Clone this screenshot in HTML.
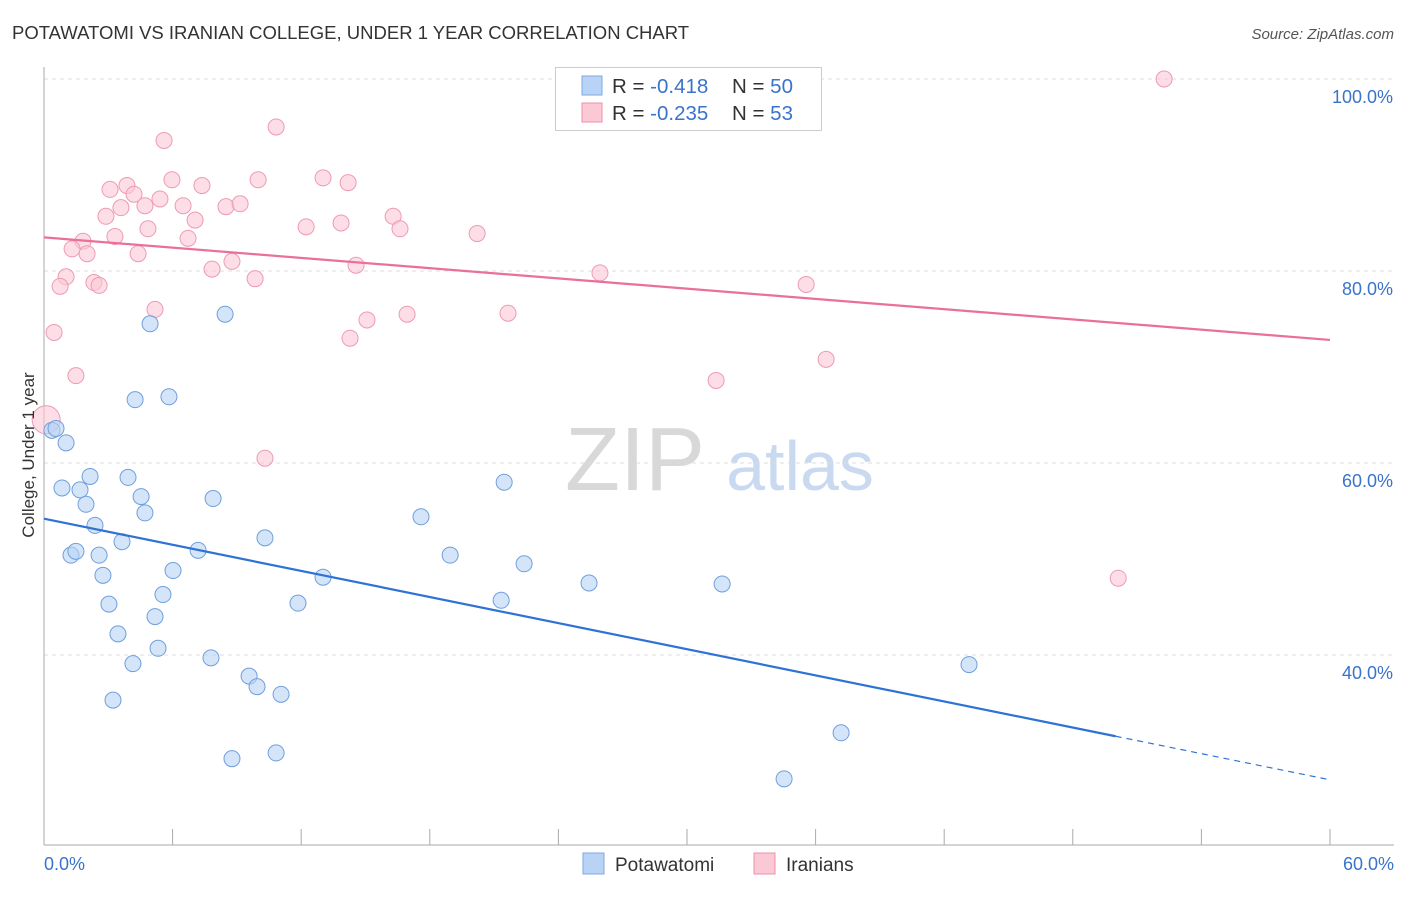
<!DOCTYPE html>
<html><head><meta charset="utf-8"><style>
body{margin:0;background:#fff;font-family:"Liberation Sans",sans-serif;}
svg text{font-family:"Liberation Sans",sans-serif;}
</style></head><body>
<svg id="chart" width="1406" height="892" xmlns="http://www.w3.org/2000/svg">
<text x="12" y="39" font-size="18.5" fill="#333">POTAWATOMI VS IRANIAN COLLEGE, UNDER 1 YEAR CORRELATION CHART</text>
<text x="1394" y="39" font-size="15" fill="#555" text-anchor="end" font-style="italic">Source: ZipAtlas.com</text>
<g>
<text x="635" y="490" font-size="90" fill="#d8d8d8" font-family="Liberation Serif" text-anchor="middle">ZIP</text>
<text x="800" y="490" font-size="70" fill="#c9daf0" text-anchor="middle">atlas</text>
</g>
<g id="grid"></g><g id="axes"></g><g id="marks"></g>
<text transform="translate(34,455) rotate(-90)" font-size="17" fill="#333" text-anchor="middle">College, Under 1 year</text>
<g>
<rect x="555.5" y="67.5" width="266" height="63" fill="#fff" stroke="#ccc"/>
<rect x="582" y="76" width="20" height="19" fill="#b8d3f5" stroke="#7fa9e0"/>
<rect x="582" y="103" width="20" height="19" fill="#fbc8d6" stroke="#ee8fae"/>
<text x="612" y="93" font-size="20.5" fill="#333">R = <tspan fill="#3a73cc">-0.418</tspan><tspan x="732">N = </tspan><tspan fill="#3a73cc">50</tspan></text>
<text x="612" y="120" font-size="20.5" fill="#333">R = <tspan fill="#3a73cc">-0.235</tspan><tspan x="732">N = </tspan><tspan fill="#3a73cc"> 53</tspan></text>
</g>
<g>
<rect x="583" y="853" width="21" height="21" fill="#b8d3f5" stroke="#7fa9e0"/>
<text x="615" y="871" font-size="19" fill="#333">Potawatomi</text>
<rect x="754" y="853" width="21" height="21" fill="#fbc8d6" stroke="#ee8fae"/>
<text x="786" y="871" font-size="19" fill="#333">Iranians</text>
</g>
</svg>
<script>
const blueX=[0.37,0.56,1.03,0.84,1.68,2.15,1.96,2.38,1.26,1.49,2.57,2.75,3.03,3.45,3.22,3.64,3.92,4.53,4.71,4.95,4.25,5.83,5.18,5.55,6.02,5.32,4.15,7.19,7.89,8.45,7.79,9.57,9.94,11.06,10.31,8.77,10.83,11.85,13.02,17.59,18.95,21.47,21.33,22.40,25.43,31.64,34.53,37.19,43.16];
const blueY=[63.4,63.6,62.1,57.4,57.2,58.6,55.7,53.5,50.4,50.8,50.4,48.3,45.3,42.2,35.3,51.8,58.5,56.5,54.8,74.5,66.6,66.9,44.0,46.3,48.8,40.7,39.1,50.9,56.3,75.5,39.7,37.8,36.7,35.9,52.2,29.2,29.8,45.4,48.1,54.4,50.4,58.0,45.7,49.5,47.5,47.4,27.1,31.9,39.0];
const pinkX=[52.26,10.83,5.60,13.02,14.19,9.99,7.37,5.97,3.87,3.08,4.20,5.41,4.71,3.59,2.89,6.49,7.05,8.49,9.15,13.86,16.29,12.23,16.61,20.21,4.85,3.31,6.72,1.82,1.31,2.01,4.39,8.77,7.84,14.56,1.03,2.33,2.57,9.85,0.75,25.94,35.56,5.18,15.07,16.94,21.65,14.28,0.47,1.49,31.36,36.49,10.31,50.12,0.1];
const pinkY=[100,95.0,93.6,89.7,89.2,89.5,88.9,89.5,88.9,88.5,88.0,87.5,86.8,86.6,85.7,86.8,85.3,86.7,87.0,85.0,85.7,84.6,84.4,83.9,84.4,83.6,83.4,83.1,82.3,81.8,81.8,81.0,80.2,80.6,79.4,78.8,78.5,79.2,78.4,79.8,78.6,76.0,74.9,75.5,75.6,73.0,73.6,69.1,68.6,70.8,60.5,48.0,64.5];
const yTicks=[40,60,80,100];
const yTickLabels=["40.0%","60.0%","80.0%","100.0%"];
const xTickVals=[0,6,12,18,24,30,36,42,48,54,60];
const blueTrend=[54.2,-0.4533]; // intercept, slope
const pinkTrend=[83.5,-0.178];
const blueSolidEnd=50;
const NS="http://www.w3.org/2000/svg";
const X=v=>44+v*21.433, Y=v=>1039-v*9.6;
function mk(tag,attrs,parent){const e=document.createElementNS(NS,tag);for(const k in attrs)e.setAttribute(k,attrs[k]);document.getElementById(parent).appendChild(e);return e;}
yTicks.forEach((t,i)=>{
 const g=mk('line',{x1:44,x2:1394,y1:Y(t),y2:Y(t),stroke:'#ddd','stroke-dasharray':'4,4'},'grid');
 
 
 const l=mk('text',{x:1393,y:Y(t)+24,'font-size':18,fill:'#3a73cc','text-anchor':'end'},'axes');
 l.textContent=yTickLabels[i];
 
 
});
const ya=mk('line',{x1:44,x2:44,y1:67,y2:845,stroke:'#aaa'},'axes');


const xa=mk('line',{x1:44,x2:1394,y1:845,y2:845,stroke:'#aaa'},'axes');


xTickVals.forEach(v=>{const t=mk('line',{x1:X(v),x2:X(v),y1:829,y2:845,stroke:'#aaa'},'axes');
 
 });
const x0=mk('text',{x:44,y:870,'font-size':18,fill:'#3a73cc'},'axes');x0.textContent='0.0%';


const x1=mk('text',{x:1394,y:870,'font-size':18,fill:'#3a73cc','text-anchor':'end'},'axes');x1.textContent='60.0%';


pinkX.forEach((x,i)=>{const c=mk('circle',{cx:X(x),cy:Y(pinkY[i]),r:i==pinkX.length-1?14:8,fill:'#fbc8d6','fill-opacity':0.6,stroke:'#ee9ab5','stroke-width':1},'marks');
 
 });
blueX.forEach((x,i)=>{const c=mk('circle',{cx:X(x),cy:Y(blueY[i]),r:8,fill:'#b8d3f5','fill-opacity':0.6,stroke:'#6f9fdc','stroke-width':1},'marks');
 
 });
const pl=mk('line',{x1:X(0),y1:Y(pinkTrend[0]),x2:X(60),y2:Y(pinkTrend[0]+pinkTrend[1]*60),stroke:'#e8709a','stroke-width':2.2},'marks');


const bl=mk('line',{x1:X(0),y1:Y(blueTrend[0]),x2:X(blueSolidEnd),y2:Y(blueTrend[0]+blueTrend[1]*blueSolidEnd),stroke:'#2f72d6','stroke-width':2.2},'marks');


const bd=mk('line',{x1:X(blueSolidEnd),y1:Y(blueTrend[0]+blueTrend[1]*blueSolidEnd),x2:X(60),y2:Y(blueTrend[0]+blueTrend[1]*60),stroke:'#2f72d6','stroke-width':1.2,'stroke-dasharray':'6,5'},'marks');


</script>
</body></html>
